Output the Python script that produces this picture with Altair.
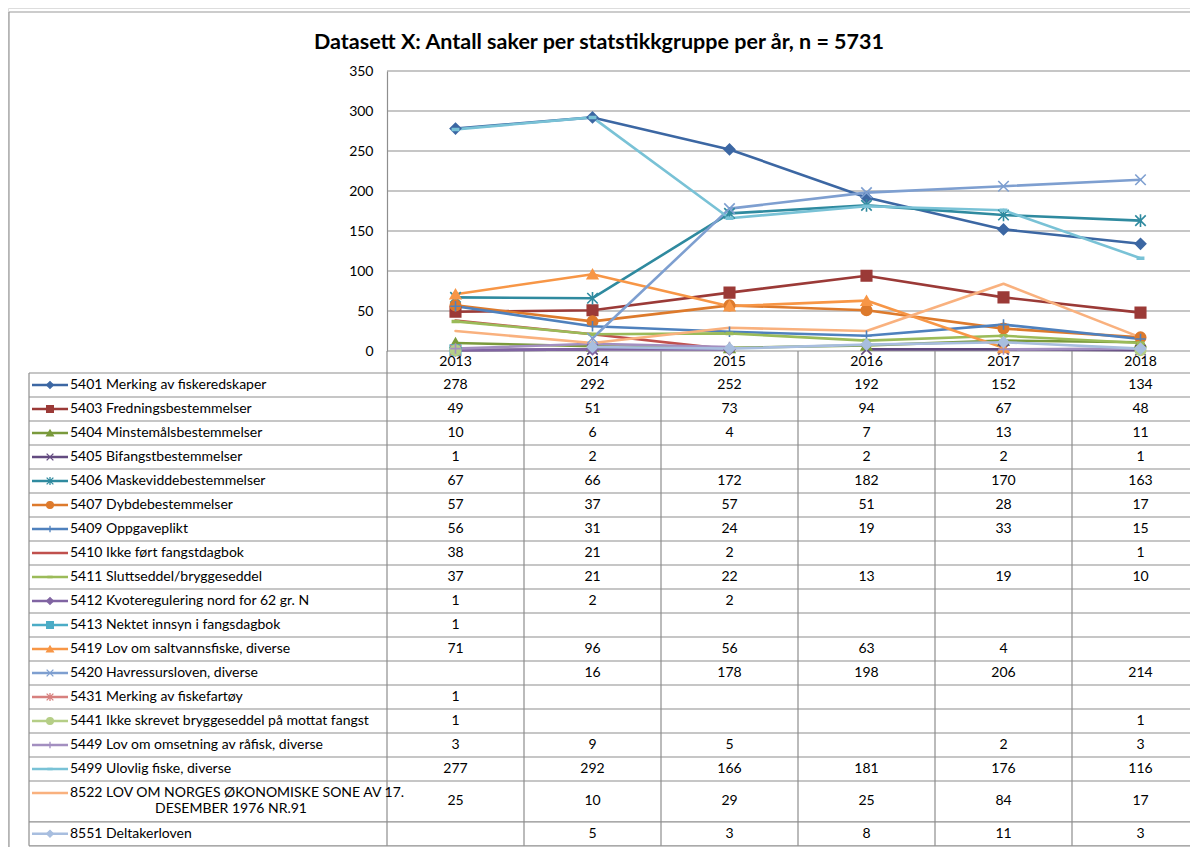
import altair as alt
import pandas as pd

# ------------------------------------------------------------------ data
YEARS = ["2013", "2014", "2015", "2016", "2017", "2018"]

CODES = ["5401", "5403", "5404", "5405", "5406", "5407", "5409", "5410", "5411",
         "5412", "5413", "5419", "5420", "5431", "5441", "5449", "5499", "8522", "8551"]

LABELS = [
    "5401 Merking av fiskeredskaper",
    "5403 Fredningsbestemmelser",
    "5404 Minstemålsbestemmelser",
    "5405 Bifangstbestemmelser",
    "5406 Maskeviddebestemmelser",
    "5407 Dybdebestemmelser",
    "5409 Oppgaveplikt",
    "5410 Ikke ført fangstdagbok",
    "5411 Sluttseddel/bryggeseddel",
    "5412 Kvoteregulering nord for 62 gr. N",
    "5413 Nektet innsyn i fangsdagbok",
    "5419 Lov om saltvannsfiske, diverse",
    "5420 Havressursloven, diverse",
    "5431 Merking av fiskefartøy",
    "5441 Ikke skrevet bryggeseddel på mottat fangst",
    "5449 Lov om omsetning av råfisk, diverse",
    "5499 Ulovlig fiske, diverse",
    "8522 LOV OM NORGES ØKONOMISKE SONE AV 17.\nDESEMBER 1976 NR.91",
    "8551 Deltakerloven",
]

S5401 = [278, 292, 252, 192, 152, 134]
S5403 = [49, 51, 73, 94, 67, 48]
S5404 = [10, 6, 4, 7, 13, 11]
S5405 = [1, 2, None, 2, 2, 1]
S5406 = [67, 66, 172, 182, 170, 163]
S5407 = [57, 37, 57, 51, 28, 17]
S5409 = [56, 31, 24, 19, 33, 15]
S5410 = [38, 21, 2, None, None, 1]
S5411 = [37, 21, 22, 13, 19, 10]
S5412 = [1, 2, 2, None, None, None]
S5413 = [1, None, None, None, None, None]
S5419 = [71, 96, 56, 63, 4, None]
S5420 = [None, 16, 178, 198, 206, 214]
S5431 = [1, None, None, None, None, None]
S5441 = [1, None, None, None, None, 1]
S5449 = [3, 9, 5, None, 2, 3]
S5499 = [277, 292, 166, 181, 176, 116]
S8522 = [25, 10, 29, 25, 84, 17]
S8551 = [None, 5, 3, 8, 11, 3]

VALUES = [S5401, S5403, S5404, S5405, S5406, S5407, S5409, S5410, S5411, S5412,
          S5413, S5419, S5420, S5431, S5441, S5449, S5499, S8522, S8551]

Y_TICKS = [0, 50, 100, 150, 200, 250, 300, 350]
TITLE = "Datasett X: Antall saker per statstikkgruppe per år, n = 5731"

# ------------------------------------------------------------------ styles
X_PATH = "M-1,-1L1,1M-1,1L1,-1"
STAR_PATH = "M-1,-1L1,1M-1,1L1,-1M0,-1.2L0,1.2"
PLUS_PATH = "M-1,0L1,0M0,-1L0,1"
DASH_PATH = "M-0.6,-0.18L0.6,-0.18L0.6,0.18L-0.6,0.18Z"

COLORS = ["#3C67A3", "#9B3A37", "#7A9A3C", "#634B80", "#2F8A9F", "#DD7A2C",
          "#4F81BD", "#C0504D", "#9BBB59", "#8064A2", "#4BACC6", "#F79646",
          "#7E9FD0", "#D7807E", "#B5CE86", "#A38FC0", "#79C2D6", "#F9B17E",
          "#A8BEDF"]
MARKERS = ["diamond", "square", "triangle-up", X_PATH, STAR_PATH, "circle", PLUS_PATH, None, DASH_PATH,
           "diamond", "square", "triangle-up", X_PATH, STAR_PATH, "circle", PLUS_PATH, DASH_PATH, None,
           "diamond"]

FONT = "Lato"
FS = 14
GRID = "#8e8e8e"
TXT = "#000000"

# ------------------------------------------------------------------ layout
W, H = 1182, 839
AXIS_X = 379          # left edge of the plot / first year column
COL_W = 137
PLOT_TOP, PLOT_BOTTOM = 63, 343
ROW_H = 24
HDR = 22 / ROW_H


def col(px):
    return (px - AXIS_X) / COL_W


LABEL_LEFT = col(21)
SYM_L, SYM_R, SYM_C = col(24), col(60), col(42)
TEXT_L = col(62)
WRAP_C = col(223)

row_units = [1.7 if "\n" in lab else 1.0 for lab in LABELS]
tops = []
acc = 0.0
for u in row_units:
    tops.append(acc)
    acc += u
TOTAL = acc

xs = alt.Scale(domain=[0, 6], range=[AXIS_X, AXIS_X + 6 * COL_W], nice=False, zero=False)
yv = alt.Scale(domain=[0, 350], range=[PLOT_BOTTOM, PLOT_TOP], nice=False, zero=False)
yt = alt.Scale(domain=[-HDR, TOTAL], range=[PLOT_BOTTOM, PLOT_BOTTOM + (HDR + TOTAL) * ROW_H],
               nice=False, zero=False)
color_scale = alt.Scale(domain=CODES, range=COLORS)
mk_codes = [c for c, m in zip(CODES, MARKERS) if m is not None]
mk_shapes = [m for m in MARKERS if m is not None]
shape_scale = alt.Scale(domain=mk_codes, range=mk_shapes)

# ------------------------------------------------------------------ frames
pts = []
cells = []
for r, (code, vals) in enumerate(zip(CODES, VALUES)):
    seg, prev = 0, False
    center = tops[r] + row_units[r] / 2
    for i, v in enumerate(vals):
        if v is None:
            if prev:
                seg += 1
            prev = False
            continue
        pts.append(dict(code=code, col=i + 0.5, value=v, seg=f"{code}-{seg}",
                        marker=MARKERS[r] is not None))
        cells.append(dict(code=code, col=i + 0.5, row=center, text=str(v)))
        prev = True
df_pts = pd.DataFrame(pts)
df_cells = pd.DataFrame(cells)

df_grid = pd.DataFrame({"v": Y_TICKS, "x0": 0, "x1": 6})
df_years = pd.DataFrame({"year": YEARS, "col": [i + 0.5 for i in range(len(YEARS))], "row": -HDR / 2})

hlines = [0.0] + [t + u for t, u in zip(tops, row_units)]
df_h = pd.DataFrame({"r": hlines, "x0": LABEL_LEFT, "x1": 6})
df_v = pd.DataFrame({"c": list(range(7)) + [LABEL_LEFT],
                     "r0": [-HDR] * 7 + [0.0],
                     "r1": [TOTAL] * 8})

leg = []
for r, (code, lab) in enumerate(zip(CODES, LABELS)):
    lines = lab.split("\n")
    leg.append(dict(code=code, row=tops[r] + 0.5, line1=lines[0],
                    line2=lines[1] if len(lines) > 1 else "",
                    row2=tops[r] + 1.17,
                    x0=SYM_L, x1=SYM_R, xc=SYM_C, xt=TEXT_L, xw=WRAP_C,
                    marker=MARKERS[r] is not None))
df_leg = pd.DataFrame(leg)

NOAX = None

# ------------------------------------------------------------------ layers
border_left = alt.Chart(pd.DataFrame({"k": [0]})).mark_rule(color="#9a9a9a", strokeWidth=1.2).encode(
    x=alt.value(1), y=alt.value(4), y2=alt.value(H))
border_top = alt.Chart(pd.DataFrame({"k": [0]})).mark_rule(color="#9a9a9a", strokeWidth=1.2).encode(
    x=alt.value(1), x2=alt.value(W), y=alt.value(4))

grid = alt.Chart(df_grid).mark_rule(color=GRID, strokeWidth=1.2).encode(
    x=alt.X("x0:Q", scale=xs, axis=NOAX), x2="x1:Q",
    y=alt.Y("v:Q", scale=yv, axis=NOAX))

lines = alt.Chart(df_pts).mark_line(strokeWidth=2.6, strokeJoin="round", strokeCap="round").encode(
    x=alt.X("col:Q", scale=xs, axis=NOAX),
    y=alt.Y("value:Q", scale=yv,
            axis=alt.Axis(values=Y_TICKS, offset=-AXIS_X, ticks=False, grid=False,
                          domainColor=GRID, domainWidth=1.2, labelFont=FONT, labelFontSize=FS,
                          labelColor=TXT, labelPadding=14, title=None)),
    color=alt.Color("code:N", scale=color_scale, legend=None),
    detail="seg:N",
    order="col:Q")

points = alt.Chart(df_pts).transform_filter("datum.marker").mark_point(
    filled=True, opacity=1, strokeWidth=1.6).encode(
    x=alt.X("col:Q", scale=xs, axis=NOAX),
    y=alt.Y("value:Q", scale=yv, axis=NOAX),
    color=alt.Color("code:N", scale=color_scale, legend=None),
    stroke=alt.Stroke("code:N", scale=color_scale, legend=None),
    shape=alt.Shape("code:N", scale=shape_scale, legend=None),
    size=alt.value(110))

years = alt.Chart(df_years).mark_text(font=FONT, fontSize=FS, color=TXT, baseline="middle").encode(
    x=alt.X("col:Q", scale=xs, axis=NOAX),
    y=alt.Y("row:Q", scale=yt, axis=NOAX),
    text="year:N")

hrules = alt.Chart(df_h).mark_rule(color=GRID, strokeWidth=1.2).encode(
    x=alt.X("x0:Q", scale=xs, axis=NOAX), x2="x1:Q",
    y=alt.Y("r:Q", scale=yt, axis=NOAX))

vrules = alt.Chart(df_v).mark_rule(color=GRID, strokeWidth=1.2).encode(
    x=alt.X("c:Q", scale=xs, axis=NOAX),
    y=alt.Y("r0:Q", scale=yt, axis=NOAX), y2="r1:Q")

cell_text = alt.Chart(df_cells).mark_text(font=FONT, fontSize=FS, color=TXT, baseline="middle").encode(
    x=alt.X("col:Q", scale=xs, axis=NOAX),
    y=alt.Y("row:Q", scale=yt, axis=NOAX),
    text="text:N")

leg_rules = alt.Chart(df_leg).mark_rule(strokeWidth=2.6).encode(
    x=alt.X("x0:Q", scale=xs, axis=NOAX), x2="x1:Q",
    y=alt.Y("row:Q", scale=yt, axis=NOAX),
    color=alt.Color("code:N", scale=color_scale, legend=None))

leg_pts = alt.Chart(df_leg).transform_filter("datum.marker").mark_point(
    filled=True, opacity=1, strokeWidth=1.3).encode(
    x=alt.X("xc:Q", scale=xs, axis=NOAX),
    y=alt.Y("row:Q", scale=yt, axis=NOAX),
    color=alt.Color("code:N", scale=color_scale, legend=None),
    stroke=alt.Stroke("code:N", scale=color_scale, legend=None),
    shape=alt.Shape("code:N", scale=shape_scale, legend=None),
    size=alt.value(45))

leg_text = alt.Chart(df_leg).mark_text(font=FONT, fontSize=FS, color=TXT, align="left",
                                       baseline="middle").encode(
    x=alt.X("xt:Q", scale=xs, axis=NOAX),
    y=alt.Y("row:Q", scale=yt, axis=NOAX),
    text="line1:N")

leg_text2 = alt.Chart(df_leg).transform_filter("datum.line2 != ''").mark_text(
    font=FONT, fontSize=FS, color=TXT, align="center", baseline="middle").encode(
    x=alt.X("xw:Q", scale=xs, axis=NOAX),
    y=alt.Y("row2:Q", scale=yt, axis=NOAX),
    text="line2:N")

chart = alt.layer(
    border_left, border_top, grid, hrules, vrules, lines, points, years, cell_text,
    leg_rules, leg_pts, leg_text, leg_text2
).resolve_scale(y="independent").properties(
    width=W, height=H,
    autosize=alt.AutoSizeParams(type="none"),
    padding=0,
    title=alt.TitleParams(TITLE, font=FONT, fontSize=21.5, fontWeight="bold", color="#000000",
                          anchor="middle", baseline="middle", offset=-56),
).configure_view(stroke=None).configure(background="white")

chart.save("out.html", embed_options={"renderer": "svg", "actions": False})
